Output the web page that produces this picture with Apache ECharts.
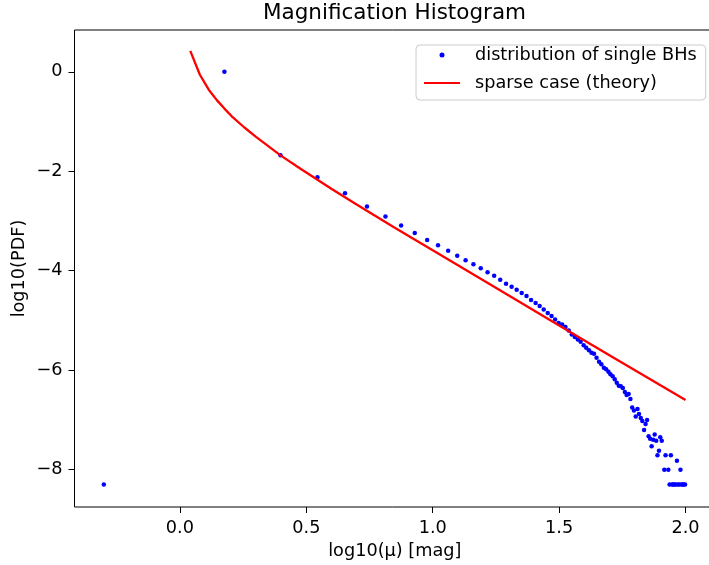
<!DOCTYPE html>
<html>
<head>
<meta charset="utf-8">
<script src="https://cdn.jsdelivr.net/npm/echarts@6/dist/echarts.min.js"></script>
<style>
  html, body { margin: 0; padding: 0; background: #fff; }
  #chart { width: 709px; height: 565px; }
</style>
</head>
<body>
<div id="chart"></div>
<script>
// histogram of single BHs: bin centre log10(mu) and log10(PDF)
const logMu = [
  -0.301, 0.176, 0.398, 0.544, 0.653, 0.740, 0.813, 0.875, 0.929, 0.978,
  1.021, 1.061, 1.097, 1.130, 1.161, 1.190, 1.217, 1.243, 1.267, 1.290,
  1.312, 1.332, 1.352, 1.371, 1.389, 1.407, 1.423, 1.439, 1.455, 1.470,
  1.484, 1.498, 1.512, 1.525, 1.538, 1.550, 1.562, 1.574, 1.585, 1.597,
  1.607, 1.618, 1.628, 1.638, 1.648, 1.658, 1.667, 1.677, 1.686, 1.695,
  1.703, 1.712, 1.720, 1.728, 1.736, 1.744, 1.752, 1.760, 1.767, 1.775,
  1.782, 1.789, 1.796, 1.803, 1.810, 1.816, 1.823, 1.829, 1.836, 1.842,
  1.848, 1.854, 1.860, 1.866, 1.872, 1.878, 1.884, 1.889, 1.895, 1.900,
  1.906, 1.916, 1.921, 1.932, 1.937, 1.942, 1.947, 1.951, 1.956, 1.961,
  1.966, 1.970, 1.975, 1.980, 1.984, 1.989, 1.993, 1.998
];
const logPdf = [
  -8.30, 0.00, -1.68, -2.12, -2.44, -2.71, -2.91, -3.09, -3.24, -3.38,
  -3.49, -3.60, -3.70, -3.79, -3.87, -3.95, -4.03, -4.10, -4.18, -4.26,
  -4.32, -4.38, -4.45, -4.51, -4.59, -4.65, -4.71, -4.78, -4.85, -4.91,
  -4.98, -5.05, -5.08, -5.13, -5.20, -5.28, -5.33, -5.38, -5.43, -5.50,
  -5.55, -5.60, -5.65, -5.67, -5.75, -5.83, -5.88, -5.95, -5.98, -6.03,
  -6.08, -6.12, -6.18, -6.25, -6.31, -6.32, -6.36, -6.44, -6.50, -6.48,
  -6.58, -6.75, -6.81, -6.93, -6.78, -6.88, -6.96, -7.02, -7.20, -7.08,
  -7.00, -7.33, -7.38, -7.53, -7.40, -7.29, -7.42, -7.71, -7.62, -7.35,
  -7.42, -8.00, -7.71, -8.00, -8.30, -7.71, -8.30, -8.30, -8.30, -8.30,
  -7.82, -8.30, -8.30, -8.00, -8.30, -8.30, -8.30, -8.30
];

// sparse case theory curve
const theoryX = [
  0.041, 0.079, 0.114, 0.146, 0.176, 0.204, 0.255, 0.301, 0.398, 0.477,
  0.602, 0.699, 0.845, 1.000, 1.301, 1.500, 1.699, 2.000
];
const theoryY = [
  0.42, -0.06, -0.36, -0.57, -0.74, -0.89, -1.12, -1.31, -1.68, -1.95,
  -2.36, -2.67, -3.12, -3.59, -4.50, -5.10, -5.70, -6.60
];

const xTicks = [0, 0.5, 1, 1.5, 2];
const yTicks = [0, -2, -4, -6, -8];

const FONT = 'DejaVu Sans';
const FS = 17.7;

const chart = echarts.init(document.getElementById('chart'), null, { renderer: 'canvas' });

chart.setOption({
  animation: false,
  backgroundColor: '#fff',
  textStyle: { fontFamily: FONT, color: '#000' },
  title: {
    text: 'Magnification Histogram',
    left: 263,
    top: 2,
    padding: 0,
    textStyle: { fontFamily: FONT, fontSize: 21.5, fontWeight: 'normal', color: '#000' }
  },
  legend: {
    orient: 'vertical',
    left: 416,
    top: 45,
    padding: [1, 9, 8, 7],
    itemWidth: 36,
    itemHeight: 5,
    itemGap: 10,
    selectedMode: false,
    backgroundColor: 'rgba(255,255,255,0.8)',
    borderColor: '#cccccc',
    borderWidth: 1,
    borderRadius: 4,
    textStyle: { fontFamily: FONT, fontSize: FS, color: '#000', lineHeight: 17, padding: [0, 0, 0, 10] },
    data: [
      { name: 'distribution of single BHs', icon: 'circle' },
      { name: 'sparse case (theory)', itemStyle: { opacity: 0 } }
    ]
  },
  grid: {
    left: 74.5,
    right: -6.1,
    top: 30,
    bottom: 58,
    show: true,
    borderColor: '#000',
    borderWidth: 1,
    backgroundColor: 'transparent',
    outerBoundsMode: 'none'
  },
  xAxis: {
    type: 'value',
    min: -0.417,
    max: 2.117,
    name: 'log10(\u03bc) [mag]',
    nameLocation: 'middle',
    nameGap: 35,
    nameMoveOverlap: false,
    nameTextStyle: { fontFamily: FONT, fontSize: FS, color: '#000' },
    axisLine: { show: false, onZero: false },
    splitLine: { show: false },
    axisTick: {
      show: true, length: 6, inside: false,
      lineStyle: { color: '#000', width: 1 },
      customValues: xTicks
    },
    axisLabel: {
      fontFamily: FONT, fontSize: FS, color: '#000', margin: 12,
      customValues: xTicks,
      formatter: v => v.toFixed(1)
    }
  },
  yAxis: {
    type: 'value',
    min: -8.75,
    max: 0.84,
    name: 'log10(PDF)',
    nameLocation: 'middle',
    nameGap: 46,
    nameRotate: 90,
    nameMoveOverlap: false,
    nameTextStyle: { fontFamily: FONT, fontSize: FS, color: '#000' },
    axisLine: { show: false, onZero: false },
    splitLine: { show: false },
    axisTick: {
      show: true, length: 6, inside: false,
      lineStyle: { color: '#000', width: 1 },
      customValues: yTicks
    },
    axisLabel: {
      fontFamily: FONT, fontSize: FS, color: '#000', margin: 12,
      customValues: yTicks,
      formatter: v => String(v).replace('-', '\u2212')
    }
  },
  series: [
    {
      name: 'distribution of single BHs',
      type: 'scatter',
      symbol: 'circle',
      symbolSize: 4.5,
      itemStyle: { color: '#0000ff', opacity: 1 },
      data: logMu.map((x, i) => [x, logPdf[i]])
    },
    {
      name: 'sparse case (theory)',
      type: 'line',
      symbol: 'none',
      showSymbol: false,
      smooth: false,
      lineStyle: { color: '#ff0000', width: 2.3 },
      itemStyle: { color: '#ff0000' },
      data: theoryX.map((x, i) => [x, theoryY[i]])
    }
  ]
});
</script>
</body>
</html>
